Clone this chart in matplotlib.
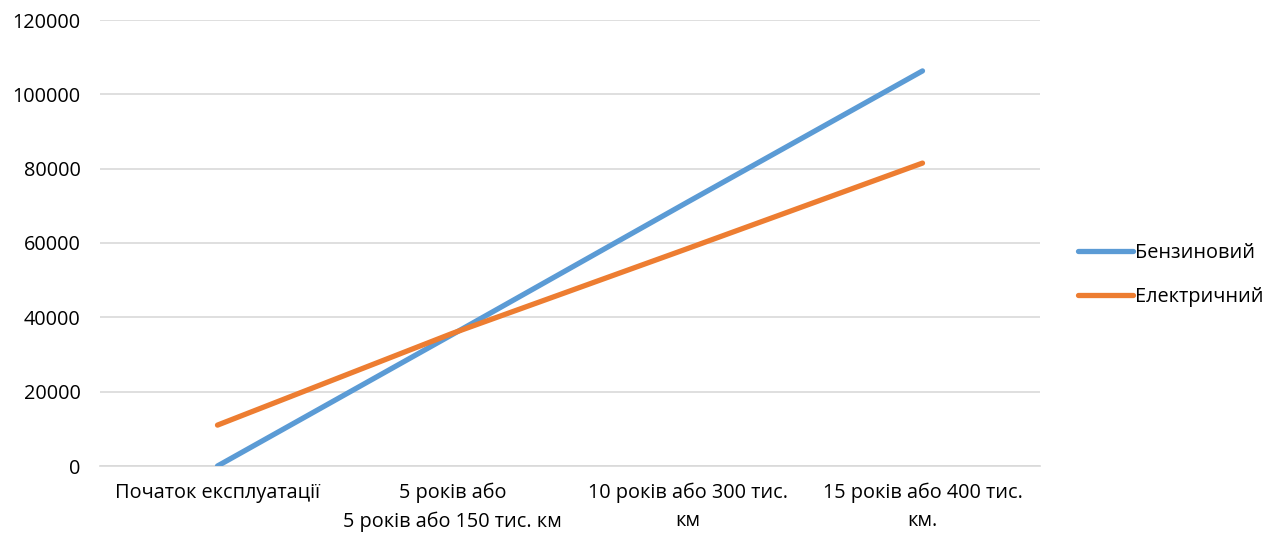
import matplotlib
matplotlib.use("Agg")
import matplotlib.pyplot as plt

plt.rcParams['font.family'] = ['Open Sans', 'DejaVu Sans']

categories = ["Початок експлуатації",
              "5 років або\n5 років або 150 тис. км",
              "10 років або 300 тис.\nкм",
              "15 років або 400 тис.\nкм."]
petrol = [0, 35400, 71000, 106300]
electric = [11000, 35700, 58500, 81500]
series_names = ["Бензиновий", "Електричний"]
yticks = [0, 20000, 40000, 60000, 80000, 100000, 120000]

W, H = 1277, 537
fig = plt.figure(figsize=(W / 100, H / 100), dpi=100)
ax = fig.add_axes([100 / W, 1 - 466 / H, 940 / W, 446 / H])

x = list(range(len(categories)))
ax.plot(x, petrol, color="#5B9BD5", lw=3.8, solid_capstyle="round", label=series_names[0], zorder=3)
ax.plot(x, electric, color="#ED7D31", lw=3.8, solid_capstyle="round", label=series_names[1], zorder=3)

ax.set_xlim(-0.5, len(categories) - 0.5)
ax.set_ylim(0, 120000)
ax.set_yticks(yticks)
ax.set_yticklabels([str(v) for v in yticks])
ax.set_xticks(x)
ax.set_xticklabels(categories, linespacing=1.55)
ax.tick_params(axis="both", length=0, labelsize=14.3, colors="#000000")
ax.tick_params(axis="y", pad=14)
ax.tick_params(axis="x", pad=12)
ax.grid(axis="y", color="#D9D9D9", lw=1.2, zorder=0)
for s in ["top", "right", "left"]:
    ax.spines[s].set_visible(False)
ax.spines["bottom"].set_color("#D9D9D9")
ax.spines["bottom"].set_linewidth(1.2)

leg = fig.legend(loc="center left", bbox_to_anchor=(1060 / W, 1 - 275 / H),
                 frameon=False, fontsize=14.3, handlelength=2.8, handletextpad=0.1,
                 labelspacing=1.2)
for line in leg.get_lines():
    line.set_linewidth(3.8)
    line.set_solid_capstyle("round")

fig.savefig("out.png", dpi=100)
